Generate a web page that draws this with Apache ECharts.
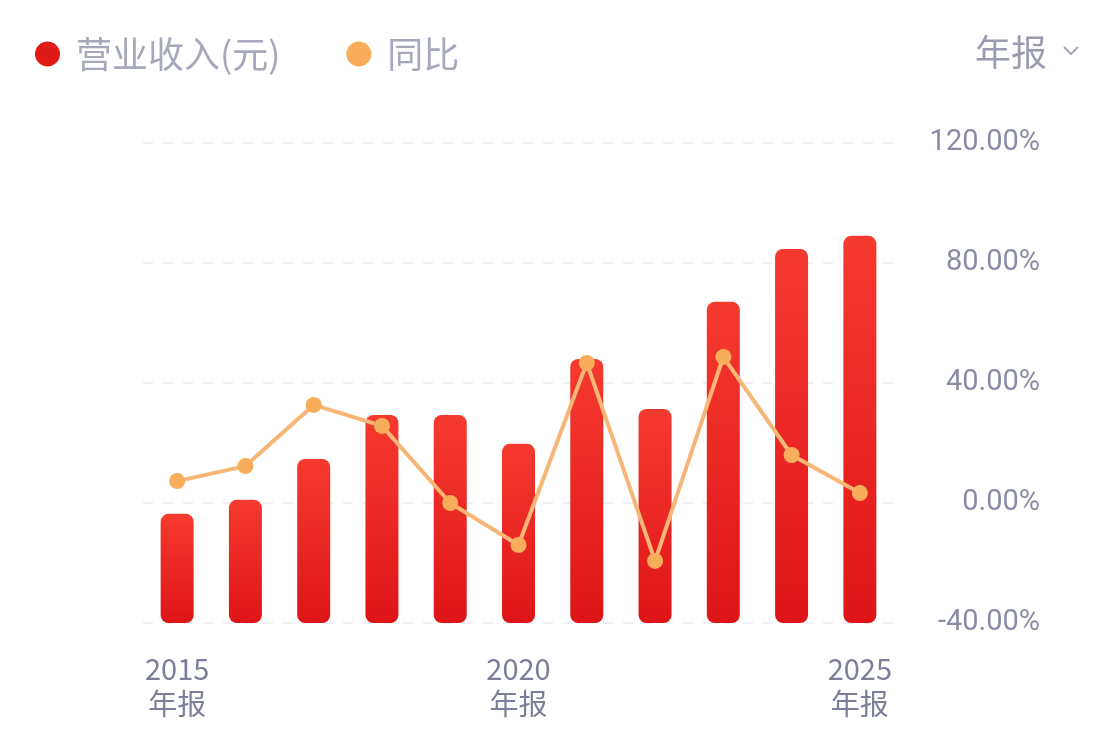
<!DOCTYPE html>
<html>
<head>
<meta charset="utf-8">
<title>营业收入</title>
<script src="https://cdn.jsdelivr.net/npm/echarts@6/dist/echarts.min.js"></script>
<style>
  html, body { margin: 0; padding: 0; background: #fff; }
  #main { width: 1120px; height: 749px; }
</style>
</head>
<body>
<div id="main"></div>
<script type="text/javascript">
  // 年份
  var years = ['2015', '2016', '2017', '2018', '2019', '2020', '2021', '2022', '2023', '2024', '2025'];
  // 营业收入 (相对值, 左轴隐藏)
  var revenue = [27.3, 30.8, 41.0, 52.0, 52.0, 44.8, 66.0, 53.5, 80.3, 93.5, 96.8];
  // 同比 (%)
  var yoy = [7.3, 12.3, 32.7, 25.7, 0.0, -14.0, 46.7, -19.3, 48.7, 16.0, 3.3];
  var pctTicks = [-40, 0, 40, 80, 120];
  var labelYears = ['2015', '2020', '2025'];

  var fontCN = '"Noto Sans CJK SC", "Noto Sans", sans-serif';
  var myChart = echarts.init(document.getElementById('main'));

  myChart.setOption({
    backgroundColor: '#ffffff',
    animation: false,
    textStyle: { fontFamily: fontCN },
    legend: {
      left: 30,
      top: 31,
      itemWidth: 25,
      itemHeight: 25,
      itemGap: 66,
      icon: 'circle',
      textStyle: { fontSize: 36, color: '#a6a8bc', fontFamily: fontCN, padding: [0, 0, 0, 11] },
      data: [
        { name: '营业收入(元)', itemStyle: { color: '#e01a17' } },
        { name: '同比', itemStyle: { color: '#f7ad5a' } }
      ]
    },
    graphic: [
      {
        type: 'text',
        left: 975,
        top: 34,
        style: { text: '年报', fontSize: 36, fill: '#9a9cb2', fontFamily: fontCN }
      },
      {
        type: 'polyline',
        shape: { points: [[1064, 47], [1071, 54], [1078, 47]] },
        style: { stroke: '#a6a8bc', lineWidth: 2, fill: null }
      }
    ],
    grid: { left: 143, right: 226, top: 143, bottom: 126 },
    xAxis: {
      type: 'category',
      data: years,
      boundaryGap: true,
      axisLine: { show: false },
      axisTick: { show: false },
      axisLabel: {
        interval: 0,
        margin: 28,
        fontSize: 29,
        lineHeight: 35,
        color: '#7c7f99',
        fontFamily: fontCN,
        formatter: function (v) {
          return labelYears.indexOf(v) >= 0 ? v + '\n年报' : '';
        }
      }
    },
    yAxis: [
      {
        type: 'value',
        min: 0,
        max: 120,
        interval: 30,
        show: false
      },
      {
        type: 'value',
        position: 'right',
        min: pctTicks[0],
        max: pctTicks[pctTicks.length - 1],
        interval: 40,
        axisLine: { show: false },
        axisTick: { show: false },
        splitLine: { show: true, lineStyle: { color: '#eeeef3', type: [10, 10], width: 2 } },
        axisLabel: {
          align: 'right',
          margin: 146,
          fontSize: 29,
          color: '#8a8ca6',
          fontFamily: 'Roboto, "Noto Sans", sans-serif',
          formatter: function (v) { return v.toFixed(2) + '%'; }
        }
      }
    ],
    series: [
      {
        name: '营业收入(元)',
        type: 'bar',
        yAxisIndex: 0,
        barWidth: 33,
        data: revenue,
        itemStyle: {
          borderRadius: 8,
          color: new echarts.graphic.LinearGradient(0, 0, 0, 1, [
            { offset: 0, color: '#f53a2f' },
            { offset: 1, color: '#de1518' }
          ])
        }
      },
      {
        name: '同比',
        type: 'line',
        yAxisIndex: 1,
        data: yoy,
        symbol: 'circle',
        symbolSize: 16,
        lineStyle: { color: '#f6b676', width: 4 },
        itemStyle: { color: '#f7ad5a' },
        z: 5
      }
    ]
  });
</script>
</body>
</html>
